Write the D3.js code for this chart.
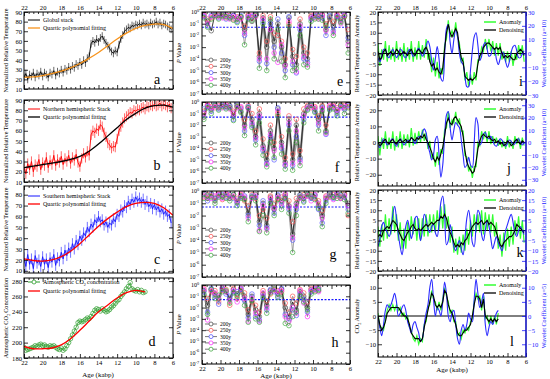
<!DOCTYPE html>
<html><head><meta charset="utf-8">
<script src="https://cdn.jsdelivr.net/npm/d3@7"></script>
<style>body{margin:0;background:#fff}svg{display:block}</style>
</head><body><svg width="550" height="379"></svg>
<script>
// ---------------- DATA ----------------
const ageTicks=[22,20,18,16,14,12,10,8,6];
const stackStart=22.0, stackStep=0.2;
// panel a (global stack), b (NH), c (SH): ages 22.0 -> 6.2 every 0.2 kyr
const aVals=[22,26,20,25,23,27,22,26,24,28,23,27,25,22,27,25,29,24,28,26,30,27,31,29,33,30,34,32,36,34,38,35,40,37,42,44,57,60,58,62,59,63,65,61,58,55,52,49,47,50,48,56,62,66,70,72,74,73,76,75,77,76,78,76,79,77,78,76,79,77,78,80,77,79,76,78,77,75,74,72];
const bVals=[24,18,28,22,30,20,27,25,32,22,29,26,34,24,31,27,36,26,32,29,35,27,33,30,36,28,34,31,37,29,25,33,38,34,40,36,56,60,58,62,60,66,64,58,54,48,46,43,45,44,52,60,64,68,72,74,76,78,77,80,79,81,80,82,83,81,84,83,85,84,86,84,85,87,84,86,85,83,86,82];
const cVals=[22,14,25,16,21,12,24,17,20,14,23,16,21,13,22,18,25,15,22,19,27,21,29,24,31,27,35,30,38,34,42,38,45,42,50,46,53,50,57,54,60,55,57,52,55,50,54,52,58,55,62,60,66,64,70,68,74,71,76,73,78,74,77,73,76,71,74,69,72,67,71,66,69,64,67,62,65,60,62,54];
const aErr=4, bErr=5, cErr=5;
const fitAges=[22,21,20,19,18,17,16,15,14,13,12,11,10,9,8,7,6];
const aFit=[22,22.5,24,26,28.5,32,36.5,42,48,55,62,68,73,76,77.5,77,73];
const bFit=[24,25.5,27,28.5,30,32,35,40,47,55,63,71,77,82,84.5,85,83];
const cFit=[21,19.5,19,20,23,28,35,43,51,58,64,69,72,73,72,68,61];
// panel d: CO2, ages 22.0 -> 9.0 every 0.2 kyr
const dVals=[194,190,191,192,193,194,196,195,197,198,196,197,195,194,196,195,196,194,192,191,193,190,192,196,200,205,210,215,220,226,228,227,228,230,232,231,234,238,242,244,243,241,244,242,240,241,243,246,248,251,254,256,260,263,266,270,273,278,270,268,267,269,266,268,265,266];
const dFitAges=[22,21,20,19,18,17,16,15,14,13,12,11,10,9];
const dFit=[195,192,192,193,197,205,216,228,240,249,258,265,268,266];
// middle panels: log10(P value), ages 21.8 -> 6.2 every 0.4 kyr
const pStart=21.8, pStep=0.4;
const windows=["200y","250y","300y","350y","400y"];
const e200=[-0.3,-0.8,-1.6,-0.2,-0.3,-0.4,-0.2,-0.5,-0.3,-0.6,-0.4,-1.5,-0.3,-0.8,-0.2,-3.8,-0.5,-3.0,-0.8,-2.5,-1.0,-3.0,-4.5,-0.5,-3.8,-4.5,-1.0,-3.5,-4.0,-0.4,-0.3,-0.6,-0.2,-1.5,-0.4,-1.2,-0.3,-0.8,-0.3,-2.5];
const e250=[-0.2,-0.6,-0.5,-0.4,-0.2,-0.3,-0.5,-0.3,-0.6,-0.4,-0.5,-1.2,-0.2,-0.5,-0.3,-3.5,-0.3,-2.5,-0.4,-1.8,-2.0,-2.5,-4.0,-1.0,-3.2,-3.8,-0.6,-3.0,-3.5,-0.3,-0.5,-0.4,-0.3,-1.0,-0.6,-0.8,-0.2,-0.5,-0.4,-1.5];
const e300=[-0.4,-1.2,-0.3,-0.3,-0.5,-0.2,-0.6,-0.4,-0.3,-0.8,-0.3,-2.0,-0.5,-0.4,-0.2,-4.2,-0.8,-4.4,-1.0,-3.0,-0.6,-3.5,-5.0,-0.4,-4.5,-5.2,-1.5,-4.0,-4.3,-0.6,-0.4,-0.3,-0.5,-2.0,-0.3,-1.6,-0.4,-0.6,-0.2,-2.2];
const e350=[-0.3,-1.0,-0.4,-0.2,-0.4,-0.5,-0.3,-0.6,-0.4,-0.5,-0.6,-1.8,-0.4,-0.3,-0.4,-4.0,-0.6,-4.0,-1.5,-3.5,-4.3,-2.8,-4.6,-0.8,-4.2,-5.1,-1.2,-3.8,-4.5,-0.5,-0.2,-0.5,-0.3,-1.6,-0.5,-1.8,-0.3,-1.0,-0.3,-2.8];
const e400=[-0.5,-1.3,-0.6,-0.3,-0.6,-0.3,-0.4,-0.5,-0.7,-0.9,-0.4,-2.8,-0.6,-0.7,-0.3,-4.8,-1.0,-5.0,-0.6,-4.0,-1.5,-4.2,-5.6,-1.2,-5.0,-4.8,-2.0,-4.5,-4.7,-0.8,-0.6,-0.4,-0.7,-1.2,-0.5,-2.0,-0.5,-0.9,-0.4,-3.5];
const f200=[-1.3,-0.3,-0.6,-0.3,-0.5,-0.2,-0.4,-0.3,-1.2,-0.3,-0.8,-2.0,-0.5,-1.5,-3.0,-1.0,-3.8,-5.0,-2.5,-4.0,-0.6,-3.5,-5.2,-1.5,-5.0,-2.0,-4.8,-1.0,-0.4,-0.3,-0.6,-1.5,-0.4,-2.5,-0.5,-0.2,-0.8,-0.3,-0.5,-0.2];
const f250=[-0.8,-0.2,-0.4,-0.5,-0.3,-0.4,-0.2,-0.5,-0.8,-0.4,-0.5,-1.5,-0.3,-1.0,-2.5,-0.6,-3.2,-4.5,-2.0,-3.5,-1.0,-3.0,-4.8,-1.2,-4.5,-1.5,-4.2,-0.6,-0.3,-0.5,-0.4,-1.2,-0.3,-2.0,-0.4,-0.3,-0.5,-0.2,-0.3,-0.4];
const f300=[-0.6,-0.4,-0.8,-0.2,-0.6,-0.3,-0.5,-0.4,-1.5,-0.2,-0.6,-2.5,-0.4,-2.0,-3.3,-1.4,-4.2,-5.3,-3.0,-5.0,-0.5,-4.0,-5.5,-2.0,-5.5,-3.0,-5.0,-1.5,-0.6,-0.2,-0.8,-2.0,-0.5,-2.8,-0.6,-0.5,-1.0,-0.4,-0.6,-0.3];
const f350=[-1.0,-0.3,-0.5,-0.4,-0.4,-0.5,-0.3,-0.6,-1.0,-0.5,-0.4,-2.2,-0.6,-1.8,-3.1,-1.2,-4.0,-5.4,-2.8,-4.2,-0.8,-3.8,-5.4,-1.8,-5.3,-2.5,-5.2,-1.2,-0.5,-0.4,-0.5,-1.8,-0.6,-2.7,-0.3,-0.4,-0.7,-0.5,-0.4,-0.2];
const f400=[-1.5,-0.5,-1.0,-0.3,-0.7,-0.4,-0.6,-0.5,-1.6,-0.4,-0.9,-2.9,-0.5,-2.2,-3.7,-1.8,-4.6,-5.6,-3.5,-4.8,-1.2,-4.5,-5.8,-2.5,-5.9,-3.5,-5.5,-1.8,-0.7,-0.3,-0.9,-2.5,-0.8,-2.6,-0.7,-0.6,-1.2,-0.3,-1.0,-0.5];
const g200=[-0.3,-0.6,-0.2,-0.8,-0.3,-0.5,-0.2,-0.6,-0.3,-0.9,-0.4,-0.6,-1.8,-0.5,-0.3,-2.5,-1.0,-2.8,-0.5,-1.5,-0.4,-0.8,-0.3,-1.2,-3.5,-1.0,-0.3,-0.6,-0.2,-0.5,-0.3,-1.2,-2.0,-0.6,-0.3,-0.5,-0.2,-0.6,-0.3,-1.0];
const g250=[-0.5,-0.3,-0.4,-0.5,-0.2,-0.7,-0.3,-0.4,-0.5,-0.6,-0.3,-0.8,-1.2,-0.3,-0.6,-2.0,-1.5,-2.2,-0.4,-1.0,-0.6,-0.5,-0.4,-0.8,-2.5,-0.6,-0.5,-0.3,-0.4,-0.3,-0.6,-0.8,-1.6,-0.4,-0.5,-0.3,-0.4,-0.5,-0.2,-2.0];
const g300=[-0.2,-0.8,-0.3,-0.6,-0.4,-0.3,-0.5,-0.3,-0.6,-1.0,-0.5,-0.4,-2.0,-0.4,-0.5,-2.8,-0.8,-3.0,-0.8,-1.8,-0.3,-1.2,-0.5,-1.5,-4.0,-1.5,-0.4,-0.8,-0.3,-0.6,-0.4,-1.5,-2.6,-0.8,-0.2,-0.6,-0.3,-0.4,-0.5,-1.5];
const g350=[-0.4,-0.5,-0.6,-0.4,-0.3,-0.6,-0.2,-0.5,-0.4,-0.8,-0.2,-0.5,-2.2,-0.6,-0.4,-3.2,-1.2,-3.1,-0.6,-1.4,-0.5,-1.0,-0.2,-1.3,-3.8,-1.2,-0.6,-0.5,-0.4,-0.8,-0.3,-1.0,-2.2,-0.5,-0.4,-0.7,-0.2,-0.6,-0.4,-1.2];
const g400=[-0.6,-0.4,-0.5,-1.0,-0.5,-0.4,-0.6,-0.8,-0.3,-1.2,-0.6,-0.7,-2.5,-0.5,-0.8,-3.3,-2.0,-3.4,-1.0,-2.0,-0.7,-1.5,-0.6,-1.8,-5.0,-2.0,-0.5,-0.9,-0.3,-0.4,-0.7,-1.4,-2.9,-1.0,-0.4,-0.5,-0.6,-0.3,-0.7,-1.8];
const h200=[-0.5,-1.8,-0.4,-0.8,-1.2,-0.3,-0.6,-1.2,-0.4,-0.8,-0.3,-1.0,-2.6,-1.0,-2.2,-2.8,-0.8,-1.8,-0.5,-0.3,-0.8,-0.4,-2.0,-2.8,-1.5,-2.2,-0.6,-1.0,-2.0,-0.4,-0.3,-0.5];
const h250=[-0.3,-1.2,-0.6,-0.5,-1.5,-0.5,-0.4,-1.8,-0.3,-1.2,-0.5,-0.7,-2.2,-1.5,-1.8,-2.4,-0.5,-1.4,-0.8,-0.4,-0.5,-0.6,-1.6,-2.4,-1.0,-1.6,-0.4,-0.7,-1.5,-0.3,-0.5,-0.2];
const h300=[-0.6,-2.4,-0.3,-1.0,-1.7,-0.4,-0.8,-1.0,-0.6,-0.6,-0.4,-1.4,-2.9,-0.8,-2.8,-3.1,-1.0,-2.2,-0.4,-0.6,-1.0,-0.3,-2.6,-3.0,-2.2,-2.7,-0.8,-1.3,-2.4,-0.6,-0.4,-0.3];
const h350=[-0.4,-3.1,-0.5,-0.7,-1.0,-0.2,-0.6,-1.4,-0.5,-1.5,-0.3,-1.2,-3.2,-1.2,-2.5,-3.2,-0.7,-2.0,-0.6,-0.5,-0.6,-0.5,-2.8,-3.2,-2.0,-2.5,-0.5,-1.6,-2.8,-0.5,-0.3,-0.6];
const h400=[-0.8,-2.6,-0.4,-1.2,-0.9,-0.6,-0.5,-1.6,-0.7,-1.0,-0.6,-1.8,-3.3,-1.4,-3.0,-3.3,-1.2,-2.5,-0.7,-0.4,-1.1,-0.8,-3.4,-3.6,-2.8,-2.4,-1.0,-1.5,-2.2,-0.8,-0.6,-0.4];
const pThreshold=0.05;
// right panels: anomaly, denoising, wavelet coefficient; ages 22.0 -> 6.2 (i,j,k) / 9.0 (l) every 0.2 kyr
const iAn=[5,-6,2,-3,6,-4,4,-3,3,-4,6,-3,3,-4,5,-4,3,-3,6,-4,3,-3,6,-3,4,-2,7,-3,0,-9,-2,-11,-4,-12,-7,-10,4,7,16,8,11,8,15,8,5,-4,-2,-13,-9,-16,-10,-15,-9,-13,-3,-3,3,1,7,2,7,1,6,-1,5,-1,5,-3,1,-4,1,-4,1,-6,0,-3,4,-1,4,-4];
const iDen=[1,-3,-2,1,2,-1,0,1,-1,0,2,1,-1,0,1,0,-1,1,2,0,-1,1,2,1,0,2,3,1,-4,-6,-5,-8,-7,-9,-10,-7,2,10,14,10,8,10,12,10,3,-2,-4,-11,-12,-13,-12,-13,-12,-11,-5,-1,0,3,4,5,5,4,3,2,3,2,3,0,-2,-1,-2,-1,-2,-3,-3,0,1,2,1,-1];
const iWav=[-3,-6,-2,3,3,-2,-3,1,3,0,-3,-1,3,2,-2,-3,1,3,1,-2,-1,2,4,1,-2,0,5,9,5,-5,-12,-4,5,-4,-18,-20,-2,18,21,8,0,10,17,12,0,-6,-8,-16,-24,-24,-12,2,12,15,6,-5,-2,6,8,3,-2,-1,4,3,-4,-8,-4,1,0,-6,-10,-6,1,5,6,2,-3,-3,0,2];
const jAn=[4,-8,3,-4,7,-4,3,-4,7,-5,4,-3,7,-4,5,-2,5,-3,9,-2,6,-1,7,0,8,1,6,-4,1,-10,-7,-15,-6,-14,-4,-7,8,9,19,9,14,12,19,11,15,7,7,-8,-9,-18,-14,-22,-15,-15,0,-2,7,2,7,0,7,-1,4,-1,3,-2,2,-3,1,-4,4,-3,1,-4,4,-1,3,-4,3,-2];
const jDen=[0,-2,-1,1,2,0,-1,1,2,0,-1,1,2,0,1,2,0,1,3,2,1,3,2,4,3,5,2,0,-3,-6,-10,-12,-9,-11,-7,-3,4,12,15,12,11,15,16,14,12,10,4,-5,-12,-15,-17,-19,-18,-12,-4,1,4,5,4,3,4,2,1,2,0,1,-1,0,-2,-1,1,0,-2,-1,1,2,0,-1,1,0];
const jWav=[-2,-4,0,3,1,-2,-1,2,3,-1,-3,0,3,1,-2,0,2,1,4,2,-1,2,5,3,8,11,8,-2,-8,-14,-10,2,5,-10,-28,-18,5,22,25,12,2,10,16,14,12,2,-10,-20,-18,-12,-18,-20,0,20,15,-2,0,7,8,4,3,5,2,-2,-3,0,3,2,-1,-3,-1,2,1,-2,-1,2,3,0,-2,0];
const kAn=[2,-8,3,-5,8,-4,6,-2,12,-1,8,-5,4,-9,1,-9,4,-5,7,-2,6,-5,6,-5,6,-3,8,-3,8,-1,8,-1,10,0,12,1,13,1,7,-6,2,-11,-4,-12,-3,-11,-2,-10,1,-7,5,-3,8,-1,8,-1,10,-2,9,0,8,-1,8,-3,4,-9,-2,-13,-1,-10,1,-8,2,-7,5,-2,7,-4,5,-6];
const kDen=[-3,-2,-3,0,1,2,1,3,5,4,3,0,-2,-4,-5,-3,-1,0,2,3,1,0,1,0,1,2,3,2,3,4,3,4,5,5,7,6,8,6,2,-1,-3,-6,-8,-7,-8,-6,-7,-5,-4,-2,0,2,3,4,3,4,5,3,4,5,3,4,3,2,-1,-4,-7,-8,-6,-5,-4,-3,-3,-2,0,3,2,1,0,-1];
const kWav=[-8,-4,2,4,1,-1,-3,0,8,12,6,-2,-8,-12,-6,2,5,1,-4,0,6,7,1,-5,0,8,6,1,-1,2,3,-1,-3,4,14,17,8,-7,-5,3,-2,-8,-10,-7,-5,-9,-12,-4,6,10,4,-6,-8,2,10,8,-2,-5,0,5,2,-4,-9,-6,-3,-6,-8,-10,-6,0,3,6,8,4,-1,-3,0,2,0,-2];
const lAn=[1,-4,-4,-5,-1,2,4,2,4,2,4,2,3,0,1,-1,0,-4,-5,-8,-9,-7,-10,-8,-9,-3,-2,3,4,9,6,5,2,5,2,6,10,7,5,1,2,-2,-2,-7,-6,-8,-5,-6,-4,-5,-2,-1,5,8,6,7,2,7,-1,0,-3,0,-3,0,-3,1];
const lDen=[0,-3,-5,-4,-2,1,2,3,3,3,3,3,2,1,0,0,-1,-3,-6,-7,-8,-8,-8,-9,-8,-4,-1,2,5,8,7,4,3,4,3,5,9,8,4,2,1,-1,-3,-6,-7,-7,-6,-5,-5,-4,-3,0,4,7,7,6,3,6,0,-1,-2,-1,-2,-1,-2,-1];
const lWav=[0,-4,-7,-3,2,4,3,4,6,8,5,0,1,3,4,2,-2,-4,-6,-3,-2,-4,-6,-9,-8,-3,1,4,10,13,6,0,3,2,0,5,12,8,0,-2,1,2,-3,-8,-10,-5,-3,-5,-3,1,-1,-2,6,13,8,3,5,8,-3,-7,-4,-2,-3,-1,1,2];

// ---------------- DRAWING ----------------
const FONT='"Liberation Serif","Times New Roman",serif';
const svg=d3.select("svg").attr("font-family",FONT);
const defs=svg.append("defs");
const dataLayer=svg.append("g"), axLayer=svg.append("g");
const ages=(n,start,step)=>d3.range(n).map(i=>+(start-i*step).toFixed(2));
const minorTicks=d3.range(6,22.01,0.5).filter(v=>!ageTicks.includes(v));
let clipN=0;

function styleAxis(s,color){
  s.attr("font-family",FONT).attr("font-size",6.6);
  s.select(".domain").remove();
  s.selectAll("line").attr("stroke",color||"#000").attr("stroke-width",0.8);
  s.selectAll("text").attr("fill",color||"#000");
}
function makePanel(o){
  const id="cp"+(clipN++);
  defs.append("clipPath").attr("id",id).append("rect").attr("x",o.x0).attr("y",o.y0).attr("width",o.x1-o.x0).attr("height",o.y1-o.y0);
  const plot=dataLayer.append("g").attr("clip-path",`url(#${id})`);
  const x=o.x;
  axLayer.append("g").attr("transform",`translate(0,${o.y1})`).call(d3.axisBottom(x).tickValues(ageTicks).tickSize(-4).tickPadding(2.5).tickFormat(o.bottom?d3.format("d"):"")).call(styleAxis);
  axLayer.append("g").attr("transform",`translate(0,${o.y1})`).call(d3.axisBottom(x).tickValues(minorTicks).tickSize(-2).tickFormat("")).call(styleAxis);
  axLayer.append("g").attr("transform",`translate(0,${o.y0})`).call(d3.axisTop(x).tickValues(ageTicks).tickSize(-4).tickPadding(2.5).tickFormat(o.top?d3.format("d"):"")).call(styleAxis);
  axLayer.append("g").attr("transform",`translate(0,${o.y0})`).call(d3.axisTop(x).tickValues(minorTicks).tickSize(-2).tickFormat("")).call(styleAxis);
  axLayer.append("g").attr("transform",`translate(${o.x0},0)`).call(d3.axisLeft(o.y).tickValues(o.yTicks).tickSize(-4).tickPadding(2).tickFormat(o.yFmt||d3.format("d"))).call(styleAxis);
  const rc=o.rColor||"#000";
  const rs=o.r||o.y, rt=o.rTicks||o.yTicks;
  axLayer.append("g").attr("transform",`translate(${o.x1},0)`).call(d3.axisRight(rs).tickValues(rt).tickSize(-4).tickPadding(2).tickFormat(o.r?d3.format("d"):"")).call(s=>styleAxis(s,rc));
  axLayer.append("rect").attr("x",o.x0).attr("y",o.y0).attr("width",o.x1-o.x0).attr("height",o.y1-o.y0).attr("fill","none").attr("stroke","#000").attr("stroke-width",1);
  if(o.r) axLayer.append("line").attr("x1",o.x1).attr("x2",o.x1).attr("y1",o.y0).attr("y2",o.y1).attr("stroke",rc).attr("stroke-width",1.2);
  if(o.letter) axLayer.append("text").attr("x",o.letter[1]).attr("y",o.letter[2]).attr("font-size",14).attr("text-anchor","middle").text(o.letter[0]);
  return plot;
}
function yTitle(x,y,parts,fs,color){
  const t=axLayer.append("text").attr("transform",`translate(${x},${y}) rotate(-90)`).attr("text-anchor","middle").attr("font-size",fs).attr("fill",color||"#000");
  parts.forEach(p=>{ if(typeof p==="string") t.append("tspan").text(p); else t.append("tspan").attr("font-size",fs*0.7).attr("dy",p.dy).text(p.t); });
  return t;
}
function legendLine(x,y,color,label,opt){
  opt=opt||{};
  axLayer.append("line").attr("x1",x).attr("x2",x+12).attr("y1",y).attr("y2",y).attr("stroke",color).attr("stroke-width",opt.w||1);
  if(opt.circle) axLayer.append("circle").attr("cx",x+6).attr("cy",y).attr("r",2).attr("fill","#fff").attr("stroke",opt.circle).attr("stroke-width",0.8);
  const t=axLayer.append("text").attr("x",x+15).attr("y",y+2).attr("font-size",opt.fs||6);
  (Array.isArray(label)?label:[label]).forEach(p=>{ if(typeof p==="string") t.append("tspan").text(p); else t.append("tspan").attr("font-size",(opt.fs||6)*0.7).attr("dy",p.dy).text(p.t); });
}
function ageAxisTitle(cx,y){ axLayer.append("text").attr("x",cx).attr("y",y).attr("text-anchor","middle").attr("font-size",7).text("Age (kabp)"); }

// ----- LEFT COLUMN -----
const xL=d3.scaleLinear().domain([22,6]).range([24,173]);
const stackAges=ages(aVals.length,stackStart,stackStep);
function stackPanel(vals,err,fit,color,fitColor,y0,y1,yDom,yTicks,top,letter,legend){
  const y=d3.scaleLinear().domain(yDom).range([y1,y0]);
  const p=makePanel({x:xL,x0:24,x1:173,y0,y1,y,yTicks,top,letter});
  p.append("g").selectAll("line").data(vals).join("line")
   .attr("x1",(d,i)=>xL(stackAges[i])).attr("x2",(d,i)=>xL(stackAges[i]))
   .attr("y1",d=>y(d-err)).attr("y2",d=>y(d+err)).attr("stroke",color).attr("stroke-width",0.6);
  p.append("path").datum(vals).attr("d",d3.line().x((d,i)=>xL(stackAges[i])).y(d=>y(d))).attr("fill","none").attr("stroke",color).attr("stroke-width",0.9);
  p.append("path").datum(fit).attr("d",d3.line().x((d,i)=>xL(fitAges[i])).y(d=>y(d)).curve(d3.curveCatmullRom)).attr("fill","none").attr("stroke",fitColor).attr("stroke-width",1.3);
  legendLine(28,y0+legend[0],color,legend[1],{w:1});
  legendLine(28,y0+legend[0]+8,fitColor,"Quartic polynomial fitting",{w:1.3});
  yTitle(8,(y0+y1)/2,["Normalized Relative Temperature"],6.2);
}
stackPanel(aVals,aErr,aFit,"#000","#f7941d",12,89,[10,90],[10,20,30,40,50,60,70,80,90],true,["a",157,84],[8,"Global stack"]);
stackPanel(bVals,bErr,bFit,"#ff0000","#000",100,182,[10,90],[10,20,30,40,50,60,70,80,90],false,["b",157,170],[9,"Northern hemispheric Stack"]);
stackPanel(cVals,cErr,cFit,"#1515ff","#ff0000",186,273,[8,88],[10,20,30,40,50,60,70,80],false,["c",157,264],[10,"Southern hemispheric Stack"]);
// panel d
{
  const y0=278,y1=358;
  const y=d3.scaleLinear().domain([180,284]).range([y1,y0]);
  const p=makePanel({x:xL,x0:24,x1:173,y0,y1,y,yTicks:[180,200,220,240,260,280],bottom:true,letter:["d",152,346]});
  const dAges=ages(dVals.length,stackStart,stackStep);
  p.append("path").datum(dVals).attr("d",d3.line().x((d,i)=>xL(dAges[i])).y(d=>y(d))).attr("fill","none").attr("stroke","#2f9e2f").attr("stroke-width",0.8);
  p.append("g").selectAll("circle").data(dVals).join("circle").attr("cx",(d,i)=>xL(dAges[i])).attr("cy",d=>y(d)).attr("r",2.2).attr("fill","none").attr("stroke","#2f9e2f").attr("stroke-width",0.7);
  p.append("path").datum(dFit).attr("d",d3.line().x((d,i)=>xL(dFitAges[i])).y(d=>y(d)).curve(d3.curveCatmullRom)).attr("fill","none").attr("stroke","#ff0000").attr("stroke-width",1.3);
  legendLine(28,y0+4,"#2f9e2f",["Atmospheric CO",{t:"2",dy:1.5},{t:" ",dy:-1.5},"concentration"],{circle:"#2f9e2f"});
  legendLine(28,y0+13,"#ff0000","Quartic polynomial fitting",{w:1.3});
  yTitle(8,(y0+y1)/2,["Atmospheric CO",{t:"2",dy:1.5},{t:" ",dy:-1.5},"Concentration"],6.2);
  ageAxisTitle(98,377);
}

// ----- MIDDLE COLUMN -----
const xM=d3.scaleLinear().domain([22,6]).range([202,350]);
const winColors=["#555555","#ff5a5a","#5a5aff","#ff33ff","#44aa44"];
const pTicks=[1,1e-1,1e-2,1e-3,1e-4,1e-5,1e-6,1e-7];
function pPanel(series,y0,y1,top,bottom,letter,legY){
  const y=d3.scaleLog().domain([1e-7,1]).range([y1,y0]);
  const p=makePanel({x:xM,x0:202,x1:350,y0,y1,y,yTicks:pTicks,yFmt:()=>"",top,bottom,letter});
  pTicks.forEach(v=>{
    const t=axLayer.append("text").attr("x",199).attr("y",y(v)+2).attr("text-anchor","end").attr("font-size",6).text("10");
    t.append("tspan").attr("dy",-2.5).attr("font-size",4.2).text(Math.round(Math.log10(v)));
  });
  const pa=ages(series[0].length,pStart,pStep);
  const ln=d3.line().x((d,i)=>xM(pa[i])).y(d=>y(Math.pow(10,d)));
  series.slice().reverse().forEach((s,k)=>{
    const idx=series.length-1-k;
    p.append("path").datum(s).attr("d",ln).attr("fill","none").attr("stroke",idx===0?"#222":"#666").attr("stroke-width",idx===0?0.9:0.6);
  });
  p.append("line").attr("x1",202).attr("x2",350).attr("y1",y(pThreshold)).attr("y2",y(pThreshold)).attr("stroke","#1a1aff").attr("stroke-width",1.2).attr("stroke-dasharray","2,1.5");
  series.forEach((s,k)=>{
    p.append("g").selectAll("circle").data(s).join("circle").attr("cx",(d,i)=>xM(pa[i])).attr("cy",d=>y(Math.pow(10,d))).attr("r",2.3).attr("fill","none").attr("stroke",winColors[k]).attr("stroke-width",0.7);
  });
  windows.forEach((w,k)=>legendLine(205,legY+k*6.3,"#555",w,{circle:winColors[k],fs:5.5,w:0.8}));
  axLayer.append("text").attr("transform",`translate(181,${(y0+y1)/2}) rotate(-90)`).attr("text-anchor","middle").attr("font-size",6.5)
    .call(t=>{t.append("tspan").attr("font-style","italic").text("P");t.append("tspan").text(" Value");});
}
pPanel([e200,e250,e300,e350,e400],12,94,true,false,["e",340,86],60);
pPanel([f200,f250,f300,f350,f400],102,183,false,false,["f",337,172],143);
pPanel([g200,g250,g300,g350,g400],191,277,false,false,["g",333,259],230);
pPanel([h200,h250,h300,h350,h400],285,364,false,true,["h",335,347],324);
ageAxisTitle(276,378);

// ----- RIGHT COLUMN -----
const xR=d3.scaleLinear().domain([22,6]).range([378,526]);
function anomPanel(an,den,wav,y0,y1,yDom,yTicks,rDom,rTicks,top,bottom,letter,leftTitle,rightTitle){
  const y=d3.scaleLinear().domain(yDom).range([y1,y0]);
  const r=d3.scaleLinear().domain(rDom).range([y1,y0]);
  const p=makePanel({x:xR,x0:378,x1:526,y0,y1,y,yTicks,r,rTicks,rColor:"#1a1aff",top,bottom,letter});
  const ra=ages(an.length,stackStart,stackStep);
  p.append("path").datum(an).attr("d",d3.line().x((d,i)=>xR(ra[i])).y(d=>y(d))).attr("fill","none").attr("stroke","#33ff33").attr("stroke-width",1.2);
  p.append("line").attr("x1",378).attr("x2",526).attr("y1",y(0)).attr("y2",y(0)).attr("stroke","#000").attr("stroke-width",1);
  p.append("path").datum(wav).attr("d",d3.line().x((d,i)=>xR(ra[i])).y(d=>r(d)).curve(d3.curveCatmullRom)).attr("fill","none").attr("stroke","#2a2aff").attr("stroke-width",1.1);
  p.append("path").datum(den).attr("d",d3.line().x((d,i)=>xR(ra[i])).y(d=>y(d))).attr("fill","none").attr("stroke","#000").attr("stroke-width",1.1);
  legendLine(484,y0+10,"#33ff33","Anomaly",{w:1.5});
  legendLine(484,y0+18,"#000","Denoising",{w:1.3});
  yTitle(359,(y0+y1)/2,leftTitle,6.2);
  yTitle(546,(y0+y1)/2,[rightTitle],6.2,"#1a1aff");
}
anomPanel(iAn,iDen,iWav,12,95,[-20,20],[-20,-15,-10,-5,0,5,10,15,20],[-30,30],[-30,-20,-10,0,10,20,30],true,false,["i",521,86],["Relative Temperature Anomaly"],"Wavelet Coefficient (a=10)");
anomPanel(jAn,jDen,jWav,99,186,[-27,27],[-20,-10,0,10,20],[-35,35],[-30,-20,-10,0,10,20,30],false,false,["j",509,173],["Relative Temperature Anomaly"],"Wavelet Coefficient (a=10)");
anomPanel(kAn,kDen,kWav,190,271,[-20,20],[-20,-15,-10,-5,0,5,10,15,20],[-20,20],[-20,-15,-10,-5,0,5,10,15,20],false,false,["k",520,257],["Relative Temperature Anomaly"],"Wavelet Coefficient (a=10)");
anomPanel(lAn,lDen,lWav,275,357,[-14.5,14.5],[-10,-5,0,5,10],[-14.5,14.5],[-10,-5,0,5,10],false,true,["l",512,346],["CO",{t:"2",dy:1.5},{t:" ",dy:-1.5},"Anomaly"],"Wavelet Coefficient (a=5)");
ageAxisTitle(452,372);
</script></body></html>
